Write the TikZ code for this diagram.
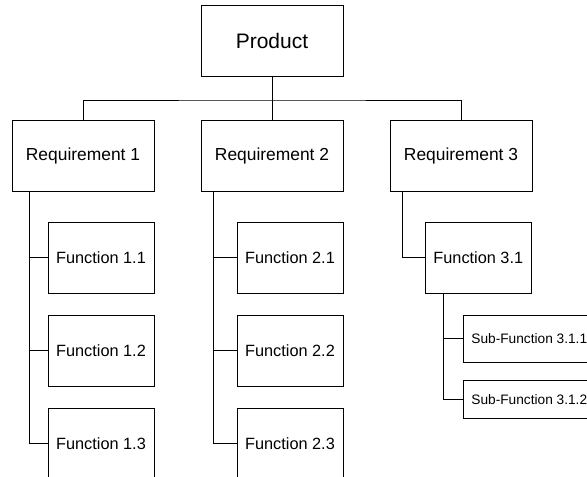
\documentclass[tikz,border=0pt]{standalone}
\usepackage{fontspec}
\setmainfont{Liberation Sans}
\usetikzlibrary{positioning}
\tikzstyle{topbox} = [rectangle, minimum width=142pt, minimum height=71pt, inner sep=0pt, outer sep=0pt, text centered, draw=black, line width=1pt, font=\fontsize{21}{25}\selectfont]
\tikzstyle{reqbox} = [rectangle, minimum width=142pt, minimum height=70.5pt, inner sep=0pt, outer sep=0pt, text centered, draw=black, line width=1pt, font=\fontsize{17.4}{21}\selectfont]
\tikzstyle{funcbox} = [rectangle, minimum width=106pt, minimum height=71pt, inner sep=0pt, outer sep=0pt, text centered, draw=black, line width=1pt, font=\fontsize{16.3}{20}\selectfont]
\tikzstyle{subbox} = [rectangle, minimum width=132pt, minimum height=47.3pt, inner sep=0pt, outer sep=0pt, text centered, draw=black, line width=1pt, font=\fontsize{13.7}{16}\selectfont]
\tikzstyle{link} = [line width=1pt]

\begin{document}
\begin{tikzpicture}[x=1pt, y=1pt]
    \useasboundingbox (0,0) rectangle (587,-477);
    % 定义节点
    \node (product) [topbox] at (272,-41.2) {Product};
    \node (req2) [reqbox, below=44pt of product] {Requirement 2};
    \node (req1) [reqbox, left=47pt of req2] {Requirement 1};
    \node (req3) [reqbox, right=47pt of req2] {Requirement 3};
    
    \node (f11) [funcbox, below left=31pt and 0pt of req1.south east] {Function 1.1};
    \node (f12) [funcbox, below=22pt of f11] {Function 1.2};
    \node (f13) [funcbox, below=22pt of f12] {Function 1.3};
    \node (f21) [funcbox, below left=31pt and 0pt of req2.south east] {Function 2.1};
    \node (f22) [funcbox, below=22pt of f21] {Function 2.2};
    \node (f23) [funcbox, below=22pt of f22] {Function 2.3};
    \node (f31) [funcbox, below left=31pt and 0.7pt of req3.south east] {Function 3.1};
    
    \node (sub311) [subbox, below right=22pt and 38pt of f31.south west] {Sub-Function 3.1.1};
    \node (sub312) [subbox, minimum height=38pt, below right=17.6pt and 0pt of sub311.south west] {Sub-Function 3.1.2};
    
    % 连接线
    \coordinate (bus) at ([yshift=20.7pt]req2.north);
    \draw [link] (product.south) -- (req2.north);
    \draw [link] (req1.north) |- (bus) -| (req3.north);
    \draw [link] ([xshift=17pt]req1.south west) |- (f11.west);
    \draw [link] ([xshift=17pt]req1.south west) |- (f12.west);
    \draw [link] ([xshift=17pt]req1.south west) |- (f13.west);
    \draw [link] ([xshift=12.3pt]req2.south west) |- (f21.west);
    \draw [link] ([xshift=12.3pt]req2.south west) |- (f22.west);
    \draw [link] ([xshift=12.3pt]req2.south west) |- (f23.west);
    \draw [link] ([xshift=12.7pt]req3.south west) |- (f31.west);
    \draw [link] ([xshift=18.4pt]f31.south west) |- (sub311.west);
    \draw [link] ([xshift=18.4pt]f31.south west) |- (sub312.west);
\end{tikzpicture}
\end{document}
